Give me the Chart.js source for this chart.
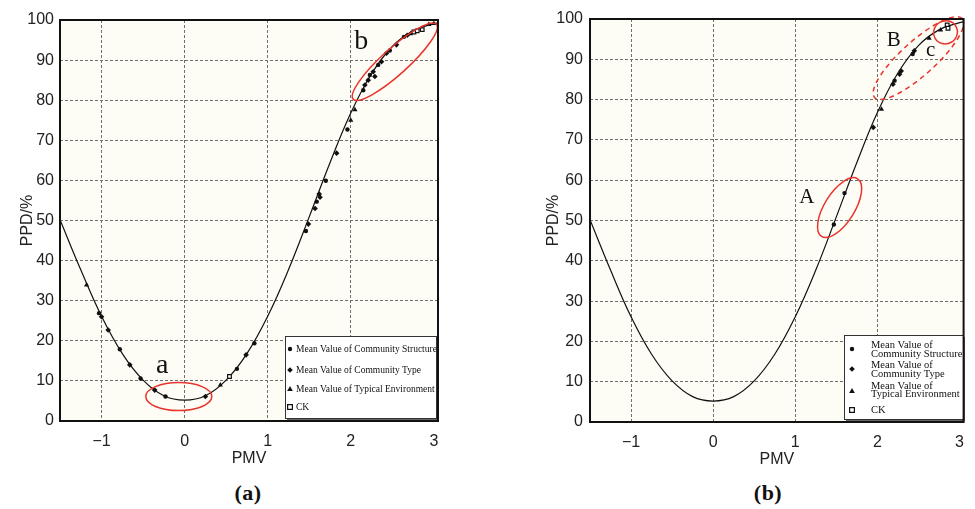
<!DOCTYPE html>
<html><head><meta charset="utf-8">
<script src="https://cdn.jsdelivr.net/npm/chart.js@4.4.1/dist/chart.umd.min.js"></script>
<style>
html,body{margin:0;padding:0;background:#fff;width:975px;height:509px;overflow:hidden;position:relative}
canvas{position:absolute;top:0}
#ca{left:0}
#cb{left:520px}
.cap{position:absolute;top:480px;font:bold 22px "Liberation Serif",serif;color:#111;transform:translateX(-50%);letter-spacing:0.5px}
</style></head><body>
<canvas id="ca" width="450" height="475"></canvas>
<canvas id="cb" width="455" height="475"></canvas>
<div class="cap" style="left:248px">(a)</div>
<div class="cap" style="left:768px">(b)</div>
<script>
// ---------- data ----------
const xTicks = [-1, 0, 1, 2, 3];
const xTickLabels = ['\u22121', '0', '1', '2', '3'];
const yTicks = [0, 10, 20, 30, 40, 50, 60, 70, 80, 90, 100];

// fitted PPD-PMV curve
const curvePMV = [-1.5, -1.25, -1, -0.75, -0.5, -0.25, 0, 0.25, 0.5, 0.75, 1, 1.25, 1.5, 1.75, 2, 2.25, 2.5, 2.75, 3, 3.05];
const curvePPD = [50.2, 37.7, 26.1, 16.8, 10.2, 6.3, 5.2, 6.3, 10.2, 16.8, 26.1, 37.7, 50.9, 64.4, 76.8, 86.6, 93.4, 97.3, 99.1, 99.3];

// panel (a)
const aStructPMV = [-1.03, -0.78, -0.53, -0.23, 0.63, 0.84, 1.46, 1.59, 1.70, 1.96, 2.15, 2.23, 2.33, 2.47, 2.64];
const aStructPPD = [26.9, 17.9, 10.6, 6.1, 13.0, 19.4, 47.4, 54.7, 59.9, 72.7, 82.5, 86.3, 88.8, 92.4, 95.8];
const aTypePMV = [-1.0, -0.92, -0.66, -0.36, 0.25, 0.74, 1.49, 1.57, 1.62, 1.63, 1.83, 2.17, 2.21, 2.27, 2.29, 2.37, 2.43, 2.55, 2.68];
const aTypePPD = [26, 22.7, 14, 7.7, 6.1, 16.5, 49.1, 53.0, 56.6, 55.8, 66.8, 83.8, 85, 87.1, 85.9, 89.6, 91.7, 93.8, 96.2];
const aEnvPMV = [-1.18, 0.43, 2.0, 2.05, 2.72, 2.94, 3.0];
const aEnvPPD = [33.9, 9.0, 75, 77.6, 96.6, 98.9, 99.1];
const aCkPMV = [0.54, 2.76, 2.80, 2.86];
const aCkPPD = [11.1, 97, 97.3, 97.6];

// panel (b)
const bStructPMV = [1.47, 1.60, 2.21, 2.43];
const bStructPPD = [49.0, 56.8, 84.7, 91.3];
const bTypePMV = [1.95, 2.19, 2.27, 2.29, 2.45];
const bTypePPD = [73.1, 83.8, 86.3, 87.1, 92.1];
const bEnvPMV = [2.05, 2.63, 2.77];
const bEnvPPD = [77.6, 95.2, 97.3];
const bCkPMV = [2.85, 2.86];
const bCkPPD = [98.5, 97.7];

const seriesNames = ['Mean Value of Community Structure', 'Mean Value of Community Type', 'Mean Value of Typical Environment', 'CK'];

// ---------- helpers ----------
const zip = (xs, ys) => xs.map((v, i) => ({x: v, y: ys[i]}));
const SANS = '"Liberation Sans", Arial, sans-serif';
const SERIF = '"Liberation Serif", "Times New Roman", serif';
const RED = '#e8342c';

function drawMarker(ctx, style, x, y) {
  ctx.save();
  ctx.fillStyle = '#111'; ctx.strokeStyle = '#111'; ctx.lineWidth = 1.2;
  ctx.beginPath();
  if (style === 'circle') { ctx.arc(x, y, 2.2, 0, Math.PI * 2); ctx.fill(); }
  else if (style === 'rectRot') { const r = 2.8; ctx.moveTo(x, y - r); ctx.lineTo(x + r, y); ctx.lineTo(x, y + r); ctx.lineTo(x - r, y); ctx.closePath(); ctx.fill(); }
  else if (style === 'triangle') { const r = 3; ctx.moveTo(x, y - r); ctx.lineTo(x + r * 0.95, y + r * 0.7); ctx.lineTo(x - r * 0.95, y + r * 0.7); ctx.closePath(); ctx.fill(); }
  else { ctx.fillStyle = '#fff'; ctx.rect(x - 2.4, y - 2.4, 4.8, 4.8); ctx.fill(); ctx.stroke(); }
  ctx.restore();
}

const decor = {
  id: 'decor',
  beforeDraw(chart, args, o) {
    const {ctx, chartArea: a} = chart;
    ctx.save(); ctx.fillStyle = o.bg; ctx.fillRect(a.left, a.top, a.right - a.left, a.bottom - a.top); ctx.restore();
  },
  afterDraw(chart, args, o) {
    const {ctx, chartArea: a, scales: {x, y}} = chart;
    ctx.save();
    // ellipses
    for (const e of o.ellipses) {
      ctx.beginPath();
      ctx.ellipse(x.getPixelForValue(e.x), y.getPixelForValue(e.y), e.rx, e.ry, -e.angle * Math.PI / 180, 0, Math.PI * 2);
      ctx.setLineDash(e.dash || []);
      ctx.lineWidth = 1.5; ctx.strokeStyle = RED; ctx.stroke();
    }
    ctx.setLineDash([]);
    // letters
    ctx.fillStyle = '#111'; ctx.textAlign = 'center'; ctx.textBaseline = 'middle';
    for (const l of o.labels) {
      ctx.font = l.size + 'px ' + SERIF;
      ctx.fillText(l.t, x.getPixelForValue(l.x), y.getPixelForValue(l.y));
    }
    // legend
    const L = o.legend;
    const bx = Math.round(a.right - L.w - L.dr), by = Math.round(a.bottom - L.h - L.db);
    ctx.fillStyle = '#fff'; ctx.fillRect(bx, by, L.w, L.h);
    ctx.fillStyle = '#666'; ctx.fillRect(bx + L.w, by + 2, 2, L.h); ctx.fillRect(bx + 2, by + L.h, L.w, 2);
    ctx.strokeStyle = '#333'; ctx.lineWidth = 1; ctx.strokeRect(bx + 0.5, by + 0.5, L.w, L.h);
    ctx.font = L.font + 'px ' + SERIF; ctx.textAlign = 'left'; ctx.textBaseline = 'middle'; ctx.fillStyle = '#111';
    L.items.forEach((it, i) => {
      drawMarker(ctx, ['circle', 'rectRot', 'triangle', 'rect'][i], bx + L.mx, by + it.my);
      it.lines.forEach((t, j) => ctx.fillText(t, bx + L.tx, by + it.ty[j]));
    });
    // frame
    ctx.lineWidth = 2; ctx.strokeStyle = '#111';
    ctx.strokeRect(a.left, a.top, a.right - a.left, a.bottom - a.top);
    ctx.restore();
  }
};

function makeChart(id, sets, geo, deco) {
  const ds = [
    {type: 'line', data: zip(curvePMV, curvePPD), borderColor: '#111', borderWidth: 1.2, pointRadius: 0, tension: 0.4, fill: false, order: 5},
    {data: zip(sets[0][0], sets[0][1]), pointStyle: 'circle', pointRadius: 2.2, backgroundColor: '#111', borderColor: '#111', borderWidth: 0},
    {data: zip(sets[1][0], sets[1][1]), pointStyle: 'rectRot', pointRadius: 2.8, backgroundColor: '#111', borderColor: '#111', borderWidth: 0},
    {data: zip(sets[2][0], sets[2][1]), pointStyle: 'triangle', pointRadius: 3, backgroundColor: '#111', borderColor: '#111', borderWidth: 0},
    {data: zip(sets[3][0], sets[3][1]), pointStyle: 'rect', pointRadius: 2.6, backgroundColor: '#fff', borderColor: '#111', borderWidth: 1.2}
  ];
  return new Chart(document.getElementById(id), {
    type: 'scatter',
    data: {datasets: ds},
    plugins: [decor],
    options: {
      responsive: false, animation: false, events: [],
      layout: {padding: {left: 0, right: geo.padR, top: geo.padT, bottom: 0}},
      plugins: {legend: {display: false}, tooltip: {enabled: false}, decor: deco},
      scales: {
        x: {
          type: 'linear', min: -1.5, max: 3.05,
          afterBuildTicks: s => { s.ticks = xTicks.map(v => ({value: v})); },
          afterFit: s => { s.height = geo.xH; },
          ticks: {padding: 11, color: '#222', font: {family: SANS, size: 16}, callback: (v) => xTickLabels[xTicks.indexOf(v)]},
          grid: {drawTicks: false, color: c => (c.tick && c.tick.value === 3) ? 'rgba(0,0,0,0)' : '#6e6e6e', lineWidth: 1},
          border: {display: false, dash: [3, 2]},
          title: {display: true, text: 'PMV', color: '#222', font: {family: SANS, size: 16}, padding: {top: 0, bottom: geo.xTitlePad}}
        },
        y: {
          type: 'linear', min: 0, max: 100,
          afterBuildTicks: s => { s.ticks = yTicks.map(v => ({value: v})); },
          afterFit: s => { s.width = geo.yW; },
          ticks: {padding: geo.yTickPad, color: '#222', font: {family: SANS, size: 16}},
          grid: {drawTicks: false, color: c => (c.tick && (c.tick.value === 0 || c.tick.value === 100)) ? 'rgba(0,0,0,0)' : '#6e6e6e', lineWidth: 1},
          border: {display: false, dash: [3, 2]},
          title: {display: true, text: 'PPD/%', color: '#222', font: {family: SANS, size: 16}, padding: {top: geo.yTitlePad, bottom: 0}}
        }
      }
    }
  });
}

makeChart('ca',
  [[aStructPMV, aStructPPD], [aTypePMV, aTypePPD], [aEnvPMV, aEnvPPD], [aCkPMV, aCkPPD]],
  {padR: 12, padT: 20, xH: 54, yW: 60, yTickPad: 6, xTitlePad: 7, yTitlePad: 18},
  {
    bg: '#fdfdf6',
    ellipses: [
      {x: -0.07, y: 6.1, rx: 33, ry: 14, angle: 0},
      {x: 2.53, y: 89.6, rx: 56, ry: 13, angle: 42}
    ],
    labels: [
      {t: 'a', x: -0.27, y: 13.7, size: 28},
      {t: 'b', x: 2.125, y: 94.6, size: 28}
    ],
    legend: {
      w: 151, h: 82, dr: 2, db: 3, mx: 5, tx: 11, font: 9.5,
      items: [
        {my: 13, lines: [seriesNames[0]], ty: [13]},
        {my: 34, lines: [seriesNames[1]], ty: [34]},
        {my: 53, lines: [seriesNames[2]], ty: [53]},
        {my: 71, lines: [seriesNames[3]], ty: [71]}
      ]
    }
  });

makeChart('cb',
  [[bStructPMV, bStructPPD], [bTypePMV, bTypePPD], [bEnvPMV, bEnvPPD], [bCkPMV, bCkPPD]],
  {padR: 5, padT: 19, xH: 53, yW: 70, yTickPad: 7, xTitlePad: 5.5, yTitlePad: 24},
  {
    bg: '#fdfdf6',
    ellipses: [
      {x: 1.54, y: 53.2, rx: 34, ry: 15, angle: 58},
      {x: 2.50, y: 90.3, rx: 59, ry: 17, angle: 42, dash: [5, 4]},
      {x: 2.83, y: 96.7, rx: 12, ry: 11.5, angle: 30}
    ],
    labels: [
      {t: 'A', x: 1.14, y: 55.7, size: 21},
      {t: 'B', x: 2.20, y: 94.7, size: 21},
      {t: 'c', x: 2.65, y: 92.2, size: 21}
    ],
    legend: {
      w: 119, h: 84, dr: 1, db: 3, mx: 8, tx: 27, font: 10.5,
      items: [
        {my: 14, lines: ['Mean Value of', 'Community Structure'], ty: [10.5, 19]},
        {my: 34, lines: ['Mean Value of', 'Community Type'], ty: [30.5, 39]},
        {my: 56, lines: ['Mean Value of', 'Typical Environment'], ty: [50.8, 59]},
        {my: 75, lines: ['CK'], ty: [75]}
      ]
    }
  });
</script>
</body></html>
